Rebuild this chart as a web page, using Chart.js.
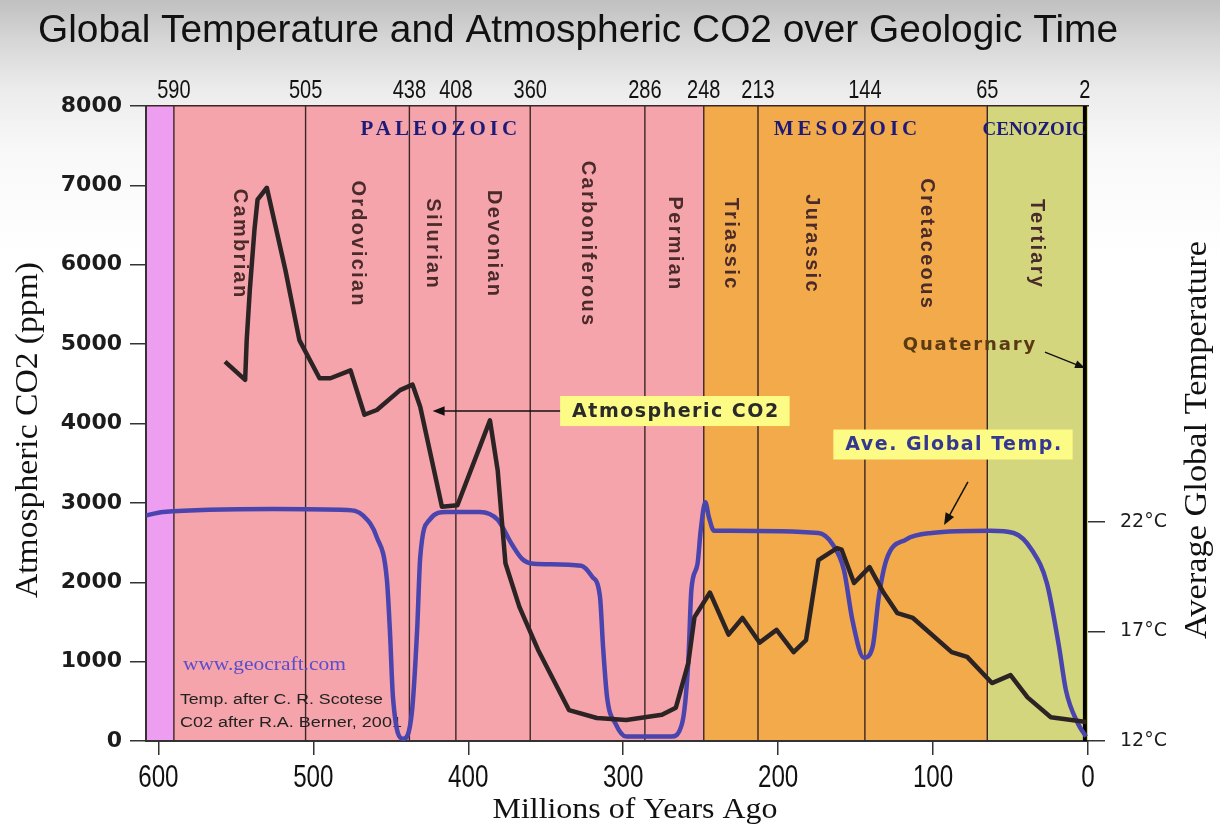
<!DOCTYPE html>
<html>
<head>
<meta charset="utf-8">
<title>Global Temperature and Atmospheric CO2 over Geologic Time</title>
<script src="https://cdn.jsdelivr.net/npm/chart.js@4.4.1/dist/chart.umd.min.js"></script>
<style>
  html, body { margin: 0; padding: 0; }
  body {
    width: 1220px; height: 830px; overflow: hidden;
    background: linear-gradient(to bottom, #c0c0c0 0px, #d6d6d6 40px, #ececec 90px, #f8f8f8 150px, #ffffff 260px);
  }
  canvas { display: block; }
</style>
</head>
<body>
<canvas id="geoChart" width="1220" height="830"></canvas>
<script>
// ---------- DATA ----------
const ageMax = 608;   // left edge of the time axis (Ma)
const ageTicks = [600, 500, 400, 300, 200, 100, 0];
const tempTicks = [12, 17, 22];
const boundaryAges = [590, 505, 438, 408, 360, 286, 248, 213, 144, 65, 2];

const periodNames = ["Cambrian", "Ordovician", "Silurian", "Devonian", "Carboniferous",
                     "Permian", "Triassic", "Jurassic", "Cretaceous", "Tertiary"];
const periodFrom = [590, 505, 438, 408, 360, 286, 248, 213, 144, 65];
const periodTo   = [505, 438, 408, 360, 286, 248, 213, 144, 65, 2];

const eraNames = ["", "PALEOZOIC", "MESOZOIC", "CENOZOIC"];
const eraFrom  = [ageMax, 590, 248, 65];
const eraTo    = [590, 248, 65, 0];

// Atmospheric CO2 (ppm), after Berner 2001
const co2Age = [557, 544, 543, 541, 538, 536, 530, 518, 509, 496,
                489, 476, 467, 459, 444, 436, 431, 417, 407, 386,
                381, 378, 376, 367, 355, 335, 317, 298, 275, 266,
                258, 254, 244, 232, 223, 212, 201, 190, 182, 174,
                162, 159, 151, 141, 132, 123, 113, 88, 78, 62,
                50, 39, 24, 1];
const co2Ppm = [4780, 4550, 5050, 5680, 6440, 6820, 6970, 5930, 5050, 4570,
                4570, 4670, 4110, 4170, 4420, 4490, 4210, 2950, 2970, 4040,
                3410, 2700, 2240, 1690, 1150, 390, 290, 265, 330, 420,
                980, 1560, 1870, 1340, 1550, 1240, 1400, 1120, 1270, 2280,
                2430, 2410, 1990, 2190, 1870, 1610, 1550, 1120, 1060, 730,
                830, 550, 300, 240];

// Average global temperature (deg C), after Scotese
const tempAge = [608, 597, 526, 478, 468, 459, 452.5, 450.6, 448.6, 442,
                 436.4, 433, 431, 425, 414, 392.5, 381, 372, 365, 358,
                 327, 320, 315, 313, 310.4, 305, 298, 269, 262, 258,
                 256, 252, 250, 247, 244.6, 241.4, 231, 174, 165, 157.5,
                 152, 144.6, 139, 135, 130, 117.5, 101, 63, 48, 36,
                 26.5, 18.7, 14.2, 6.5, 1.3];
const tempC = [22.3, 22.46, 22.6, 22.55, 22.3, 21.3, 19.35, 17.07, 14.0, 12.1,
               13.3, 17.07, 20.4, 22.1, 22.46, 22.46, 22.1, 21.0, 20.3, 20.1,
               20.0, 19.5, 18.6, 16.3, 14.0, 12.8, 12.2, 12.2, 12.8, 15.6,
               18.9, 20.1, 21.6, 22.9, 22.2, 21.6, 21.6, 21.5, 21.0, 19.8,
               17.5, 15.8, 16.3, 18.6, 20.3, 21.2, 21.5, 21.6, 21.5, 20.7,
               19.2, 16.3, 14.3, 12.8, 12.2];

// ---------- STYLE ----------
const ERA_COLORS = ["#ee9ef0", "#f5a4ab", "#f3aa4a", "#d4d67e"];
const LINE_DARK = "#3a2626";

// draw text squeezed/stretched to a given width
function fitText(ctx, text, x, y, width, align) {
    const w = ctx.measureText(text).width;
    ctx.save();
    ctx.translate(x, y);
    ctx.scale(width / w, 1);
    ctx.textAlign = align || "left";
    ctx.fillText(text, 0, 0);
    ctx.restore();
}

// draw text with a fixed horizontal squeeze factor (condensed look)
function squeezeText(ctx, text, x, y, sx) {
    ctx.save();
    ctx.translate(x, y);
    ctx.scale(sx, 1);
    ctx.textAlign = "center";
    ctx.fillText(text, 0, 0);
    ctx.restore();
}

function arrow(ctx, x0, y0, x1, y1, head) {
    const ang = Math.atan2(y1 - y0, x1 - x0);
    ctx.beginPath();
    ctx.moveTo(x0, y0);
    ctx.lineTo(x1 - Math.cos(ang) * head * 0.6, y1 - Math.sin(ang) * head * 0.6);
    ctx.stroke();
    ctx.beginPath();
    ctx.moveTo(x1, y1);
    ctx.lineTo(x1 - head * Math.cos(ang) + head * 0.4 * Math.sin(ang), y1 - head * Math.sin(ang) - head * 0.4 * Math.cos(ang));
    ctx.lineTo(x1 - head * Math.cos(ang) - head * 0.4 * Math.sin(ang), y1 - head * Math.sin(ang) + head * 0.4 * Math.cos(ang));
    ctx.closePath();
    ctx.fill();
}

function noteBox(ctx, text, cx, cy, color) {
    ctx.font = 'bold 19px "DejaVu Sans"';
    ctx.letterSpacing = "1.5px";
    const w = ctx.measureText(text).width;
    ctx.fillStyle = "#fbfb86";
    ctx.fillRect(cx - w / 2 - 12, cy - 15, w + 22, 30);
    ctx.fillStyle = color;
    ctx.textAlign = "center";
    ctx.textBaseline = "middle";
    ctx.fillText(text, cx, cy + 1);
    ctx.letterSpacing = "0px";
    return { left: cx - w / 2 - 12, right: cx + w / 2 + 10 };
}

// ---------- PLUGIN: bands, boundaries, labels, notes ----------
const geoPlugin = {
    id: "geoPlugin",
    beforeDraw(chart) {
        const { ctx, chartArea: a, scales: { x } } = chart;
        ctx.save();
        eraFrom.forEach((from, i) => {
            const x0 = x.getPixelForValue(from);
            const x1 = x.getPixelForValue(eraTo[i]);
            ctx.fillStyle = ERA_COLORS[i];
            ctx.fillRect(x0, a.top, x1 - x0, a.bottom - a.top);
        });

        // chart title
        ctx.fillStyle = "#111";
        ctx.textBaseline = "alphabetic";
        ctx.font = '38px "Liberation Sans"';
        fitText(ctx, "Global Temperature and Atmospheric CO2 over Geologic Time", 38, 42, 1080, "left");

        // axis titles (serif, like the original)
        ctx.font = '32px "Liberation Serif"';
        ctx.save();
        ctx.translate(37, 430);
        ctx.rotate(-Math.PI / 2);
        fitText(ctx, "Atmospheric CO2 (ppm)", 0, 0, 336, "center");
        ctx.restore();

        ctx.save();
        ctx.translate(1206, 440);
        ctx.rotate(-Math.PI / 2);
        fitText(ctx, "Average Global Temperature", 0, 0, 398, "center");
        ctx.restore();

        ctx.font = '30px "Liberation Serif"';
        fitText(ctx, "Millions of Years Ago", 635, 818, 285, "center");
        ctx.restore();
    },
    beforeDatasetsDraw(chart) {
        const { ctx, chartArea: a, scales: { x, y } } = chart;
        ctx.save();

        // period boundaries
        boundaryAges.forEach(age => {
            const px = x.getPixelForValue(age);
            ctx.strokeStyle = age === 2 ? "#000" : LINE_DARK;
            ctx.lineWidth = age === 2 ? 4 : 1.4;
            ctx.beginPath();
            ctx.moveTo(px, a.top);
            ctx.lineTo(px, a.bottom);
            ctx.stroke();
        });

        // era names
        ctx.fillStyle = "#1d1b78";
        ctx.textBaseline = "alphabetic";
        ctx.textAlign = "center";
        eraNames.forEach((name, i) => {
            if (!name) return;
            ctx.font = i === 3 ? 'bold 19px "Liberation Serif"' : 'bold 21px "Liberation Serif"';
            ctx.letterSpacing = i === 3 ? "0px" : "4px";
            const w = ctx.measureText(name).width;
            let cx = x.getPixelForValue((eraFrom[i] + eraTo[i]) / 2);
            cx = Math.min(cx, a.right - 4 - w / 2);
            ctx.fillText(name, cx + 2, a.top + 29);
        });
        ctx.letterSpacing = "0px";

        // period names, vertical
        ctx.fillStyle = "#4a2a2a";
        ctx.font = 'bold 20px "Liberation Sans"';
        ctx.letterSpacing = "2.3px";
        ctx.textBaseline = "middle";
        periodNames.forEach((name, i) => {
            const cx = x.getPixelForValue((periodFrom[i] + periodTo[i]) / 2);
            ctx.save();
            ctx.translate(cx, y.getPixelForValue(6260));
            ctx.rotate(Math.PI / 2);
            ctx.textAlign = "center";
            ctx.fillText(name, 0, 0);
            ctx.restore();
        });
        ctx.letterSpacing = "0px";

        // source notes
        const left = x.getPixelForValue(590) + 6;
        ctx.textAlign = "left";
        ctx.textBaseline = "alphabetic";
        ctx.fillStyle = "#5a4ccc";
        ctx.font = '19px "Liberation Serif"';
        fitText(ctx, "www.geocraft.com", left + 3, y.getPixelForValue(900), 163, "left");
        ctx.fillStyle = "#222";
        ctx.font = '14px "Liberation Sans"';
        fitText(ctx, "Temp. after C. R. Scotese", left, y.getPixelForValue(470), 203, "left");
        fitText(ctx, "C02 after R.A. Berner, 2001", left, y.getPixelForValue(180), 222, "left");
        ctx.restore();
    },
    afterDatasetsDraw(chart) {
        const { ctx, scales: { x, y, y2 } } = chart;
        ctx.save();
        ctx.strokeStyle = "#111";
        ctx.fillStyle = "#111";
        ctx.lineWidth = 1.5;

        // CO2 note
        const cy = y.getPixelForValue(4157);
        const b1 = noteBox(ctx, "Atmospheric CO2", x.getPixelForValue(266), cy, "#2a2a2a");
        ctx.fillStyle = "#111";
        arrow(ctx, b1.left, cy, x.getPixelForValue(423), cy, 12);

        // temperature note
        noteBox(ctx, "Ave. Global Temp.", x.getPixelForValue(86.5), y2.getPixelForValue(25.54), "#353890");
        ctx.fillStyle = "#111";
        arrow(ctx, x.getPixelForValue(77.5), y2.getPixelForValue(23.83),
                   x.getPixelForValue(92.9), y2.getPixelForValue(21.86), 12);

        // Quaternary
        ctx.font = 'bold 18px "DejaVu Sans"';
        ctx.letterSpacing = "1.9px";
        ctx.fillStyle = "#5a3a12";
        ctx.textAlign = "center";
        ctx.textBaseline = "middle";
        ctx.fillText("Quaternary", x.getPixelForValue(76.2), y.getPixelForValue(4989));
        ctx.letterSpacing = "0px";
        ctx.fillStyle = "#111";
        ctx.lineWidth = 1.3;
        arrow(ctx, x.getPixelForValue(27.8), y.getPixelForValue(4900),
                   x.getPixelForValue(1.9), y.getPixelForValue(4699), 10);
        ctx.restore();
    },
    afterDraw(chart) {
        // condensed age labels on the bottom and top time axes
        const { ctx, chartArea: a, scales: { x, x2 } } = chart;
        ctx.save();
        ctx.fillStyle = "#111";
        ctx.textBaseline = "alphabetic";
        ctx.font = '31px "Liberation Sans"';
        x.ticks.forEach(t => {
            squeezeText(ctx, String(t.value), x.getPixelForValue(t.value), a.bottom + 46, 0.78);
        });
        ctx.font = '25px "Liberation Sans"';
        x2.ticks.forEach(t => {
            squeezeText(ctx, String(t.value), x2.getPixelForValue(t.value), a.top - 8, 0.8);
        });
        ctx.restore();
    }
};

// ---------- CHART ----------
const ctx = document.getElementById("geoChart").getContext("2d");

new Chart(ctx, {
    type: "line",
    data: {
        datasets: [
            {
                label: "Ave. Global Temp.",
                data: tempAge.map((a, i) => ({ x: a, y: tempC[i] })),
                yAxisID: "y2",
                xAxisID: "x",
                borderColor: "#4a44ae",
                borderWidth: 4.5,
                pointRadius: 0,
                cubicInterpolationMode: "monotone",
                order: 2
            },
            {
                label: "Atmospheric CO2",
                data: co2Age.map((a, i) => ({ x: a, y: co2Ppm[i] })),
                yAxisID: "y",
                xAxisID: "x",
                borderColor: "#2c2424",
                borderWidth: 4.5,
                borderJoinStyle: "round",
                pointRadius: 0,
                tension: 0,
                order: 1
            }
        ]
    },
    options: {
        responsive: false,
        animation: false,
        layout: { padding: 0 },
        plugins: {
            legend: { display: false },
            tooltip: { enabled: false },
            title: { display: false }
        },
        scales: {
            x: {
                type: "linear",
                position: "bottom",
                reverse: true,
                min: 0,
                max: ageMax,
                afterBuildTicks: s => { s.ticks = ageTicks.map(v => ({ value: v })); },
                afterFit: s => { s.height = 89; },
                grid: { drawOnChartArea: false, drawTicks: true, tickLength: 14, color: "#333", lineWidth: 1.5 },
                border: { display: true, color: "#333", width: 2 },
                ticks: { display: false, autoSkip: false }
            },
            x2: {
                type: "linear",
                position: "top",
                reverse: true,
                min: 0,
                max: ageMax,
                afterBuildTicks: s => { s.ticks = boundaryAges.map(v => ({ value: v })); },
                afterFit: s => { s.height = 106; },
                grid: { drawOnChartArea: false, drawTicks: false },
                border: { display: true, color: LINE_DARK, width: 1.5 },
                ticks: { display: false, autoSkip: false }
            },
            y: {
                type: "linear",
                position: "left",
                min: 0,
                max: 8000,
                ticks: {
                    stepSize: 1000,
                    color: "#1c1c1c",
                    padding: 8,
                    callback: v => String(v),
                    font: { family: '"DejaVu Sans"', size: 22, weight: "bold" }
                },
                afterFit: s => { s.width = 146; },
                grid: { drawOnChartArea: false, drawTicks: true, tickLength: 16, color: "#333", lineWidth: 1.5 },
                border: { display: true, color: "#333", width: 2 }
            },
            y2: {
                type: "linear",
                position: "right",
                min: 12,
                max: 41,
                afterBuildTicks: s => { s.ticks = tempTicks.map(v => ({ value: v })); },
                afterFit: s => { s.width = 132; },
                grid: { drawOnChartArea: false, drawTicks: true, tickLength: 17, color: "#333", lineWidth: 1.5 },
                border: { display: false },
                ticks: {
                    color: "#1c1c1c",
                    padding: 15,
                    callback: v => v + "°C",
                    font: { family: '"DejaVu Sans"', size: 19 }
                }
            }
        }
    },
    plugins: [geoPlugin]
});
</script>
</body>
</html>
